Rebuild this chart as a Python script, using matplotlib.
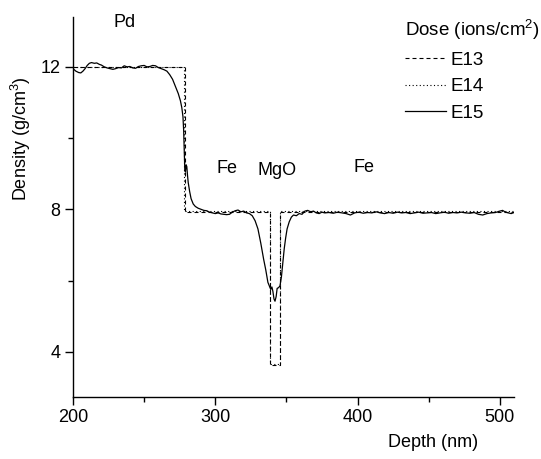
import matplotlib
matplotlib.use("Agg")
import matplotlib.pyplot as plt
from matplotlib.lines import Line2D

FONT = 'Liberation Sans'
plt.rcParams['font.family'] = [FONT, 'DejaVu Sans']
plt.rcParams['mathtext.fontset'] = 'custom'
plt.rcParams['mathtext.rm'] = FONT
plt.rcParams['mathtext.it'] = FONT

# ---- data ----
e13_x = [200, 278.5, 278.5, 338.5, 338.5, 345.5, 345.5, 510]
e13_y = [12.0, 12.0, 7.92, 7.92, 3.62, 3.62, 7.92, 7.92]
e14_x = [200, 278.3, 278.3, 338.3, 338.3, 345.3, 345.3, 510]
e14_y = [12.0, 12.0, 7.94, 7.94, 3.66, 3.66, 7.94, 7.94]

e15_x = [200, 202, 204, 205.5, 207, 208.5, 210, 211.5, 213, 215, 216.7, 218.5,
         220, 222, 224, 226, 228, 230, 232, 234, 236, 238, 240, 242, 244, 246,
         248, 250, 252, 254, 256, 258, 260, 262, 264, 266, 268, 270, 272, 274,
         275.5, 276.5, 277.3, 277.8, 278.2, 278.6, 279.0, 279.5, 280.0, 280.5,
         281, 282, 283, 284.5, 286, 288, 290, 292, 294, 296, 298, 300, 302, 304,
         306, 308, 310, 312, 314, 316, 318, 320, 322, 324, 326, 328, 330, 332,
         334, 335.5, 337, 338, 339, 339.8, 340.5, 341.3, 342, 342.8, 343.5,
         344.5, 345.5, 346.5, 347.5, 348.5, 349.5, 350.5, 352, 353.5, 355, 357,
         359, 361, 363, 365, 367, 369, 371, 373, 375, 377, 380, 383, 386, 389,
         392, 395, 398, 401, 404, 407, 410, 413, 416, 419, 422, 425, 428, 431,
         434, 437, 440, 443, 446, 449, 452, 455, 458, 461, 464, 467, 470, 473,
         476, 479, 482, 485, 488, 491, 494, 497, 500, 502, 504, 506, 508, 510]
e15_y = [11.95, 11.88, 11.84, 11.83, 11.88, 11.95, 12.04, 12.10, 12.12, 12.10,
         12.11, 12.07, 12.05, 12.00, 11.97, 11.95, 11.93, 11.95, 11.98, 11.97,
         12.03, 12.00, 12.01, 11.97, 11.96, 12.01, 12.03, 12.04, 12.00, 12.01,
         12.04, 12.03, 11.98, 11.95, 11.92, 11.88, 11.78, 11.65, 11.45, 11.25,
         11.05, 10.85, 10.60, 10.20, 9.60, 9.10, 9.05, 9.25, 9.20, 8.95,
         8.75, 8.50, 8.30, 8.15, 8.08, 8.03, 8.00, 7.97, 7.96, 7.92, 7.90, 7.88,
         7.90, 7.87, 7.86, 7.85, 7.86, 7.92, 7.96, 7.98, 7.93, 7.95, 7.90, 7.88,
         7.82, 7.68, 7.45, 7.05, 6.60, 6.30, 5.95, 5.85, 5.75, 5.82, 5.70, 5.48,
         5.42, 5.55, 5.78, 5.80, 5.85, 6.10, 6.50, 6.90, 7.20, 7.45, 7.65, 7.78,
         7.84, 7.82, 7.88, 7.86, 7.95, 7.97, 7.93, 7.95, 7.90, 7.88, 7.92, 7.90,
         7.91, 7.89, 7.92, 7.90, 7.88, 7.84, 7.90, 7.92, 7.89, 7.91, 7.90, 7.93,
         7.90, 7.88, 7.91, 7.89, 7.92, 7.90, 7.91, 7.88, 7.90, 7.92, 7.89, 7.90,
         7.91, 7.88, 7.90, 7.92, 7.89, 7.91, 7.90, 7.92, 7.90, 7.89, 7.91, 7.86,
         7.84, 7.88, 7.90, 7.91, 7.95, 7.97, 7.92, 7.90, 7.88, 7.91]

layer_labels = ['Pd', 'Fe', 'MgO', 'Fe']
layer_x = [236, 308, 343.5, 404.5]
layer_y = [13.12, 9.02, 8.96, 9.04]

series_labels = ['E13', 'E14', 'E15']
x_ticks = [200, 300, 400, 500]
y_ticks = [4, 8, 12]

# ---- figure ----
fig = plt.figure(figsize=(5.41, 4.59), dpi=100)
ax = fig.add_axes([73 / 541, 1 - 397 / 459, 441 / 541, 380 / 459])

ax.plot(e13_x, e13_y, color='black', lw=0.8, linestyle=(0, (3.6, 2.7)))
ax.plot(e14_x, e14_y, color='black', lw=0.8, linestyle=(0, (1.0, 2.2)))
ax.plot(e15_x, e15_y, color='black', lw=0.9)

ax.set_xlim(200, 510)
ax.set_ylim(2.73, 13.4)
ax.set_xticks(x_ticks)
ax.set_yticks(y_ticks)
ax.set_xticks([250, 350, 450], minor=True)
ax.set_yticks([6, 10], minor=True)

for s in ['top', 'right']:
    ax.spines[s].set_visible(False)
for s in ['left', 'bottom']:
    ax.spines[s].set_linewidth(1.0)
ax.tick_params(which='major', direction='out', length=6, width=1.0,
               labelsize=13, pad=3)
ax.tick_params(which='minor', direction='out', length=3.5, width=1.0)

ax.set_xlabel('Depth (nm)', fontsize=13)
ax.xaxis.set_label_coords((433 - 73) / 441, (397 - 434) / 380)
ax.set_ylabel('Density (g/cm$^3$)', fontsize=13)
ax.yaxis.set_label_coords((33 - 73) / 441, (397 - 139) / 380)

for lbl, xv, yv in zip(layer_labels, layer_x, layer_y):
    ax.text(xv, yv, lbl, ha='center', va='baseline', fontsize=13)

handles = [Line2D([], [], color='black', lw=0.8, linestyle=(0, (3.6, 2.7))),
           Line2D([], [], color='black', lw=0.8, linestyle=(0, (1.0, 2.2))),
           Line2D([], [], color='black', lw=0.9)]
leg = ax.legend(handles, series_labels, title='Dose (ions/cm$^2$)',
                loc='upper left', bbox_to_anchor=(405 / 541, 1 - 18 / 459),
                bbox_transform=fig.transFigure, frameon=False, borderpad=0,
                borderaxespad=0, fontsize=13.5, title_fontsize=13.5,
                handlelength=2.2, handletextpad=0.25, labelspacing=0.5,
                alignment='left')

fig.savefig('out.png', dpi=100)
